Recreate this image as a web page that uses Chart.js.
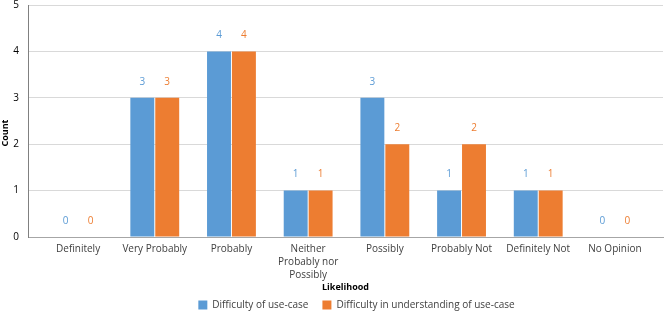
<!DOCTYPE html>
<html>
  <head>
    <meta charset="utf-8">
    <title>Likelihood chart</title>
    <style>
      html, body { margin: 0; padding: 0; background: #fff; }
      #rame { width: 664px; height: 312px; }
    </style>
  </head>
  <body>
    <div id="rame">
      <canvas id="chart"></canvas>
    </div>

    <script src="https://cdn.jsdelivr.net/npm/chart.js"></script>
    <script>
      const categories = ['Definitely', 'Very Probably', 'Probably', ['Neither', 'Probably nor', 'Possibly'],
                          'Possibly', 'Probably Not', 'Definitely Not', 'No Opinion'];
      const useCaseDifficulty = [0, 3, 4, 1, 3, 1, 1, 0];
      const understandingDifficulty = [0, 3, 4, 1, 2, 2, 1, 0];
      const countTicks = [0, 1, 2, 3, 4, 5];

      const blue = '#5b9bd5';
      const orange = '#ed7d31';
      const textColor = '#404040';
      const fontFamily = "'Open Sans', 'Liberation Sans', sans-serif";

      // value labels above each bar, in the series colour
      const valueLabels = {
        id: 'valueLabels',
        afterDatasetsDraw(chart) {
          const ctx = chart.ctx;
          ctx.save();
          ctx.font = '10px ' + fontFamily;
          ctx.textAlign = 'center';
          ctx.textBaseline = 'middle';
          chart.data.datasets.forEach(function(ds, i) {
            chart.getDatasetMeta(i).data.forEach(function(bar, j) {
              ctx.fillStyle = ds.backgroundColor;
              ctx.fillText(ds.data[j], bar.x, bar.y - 16);
            });
          });
          ctx.restore();
        }
      };

      // y axis title, sits a bit below the middle like the original
      const countTitle = {
        id: 'countTitle',
        afterDraw(chart) {
          const ctx = chart.ctx;
          const area = chart.chartArea;
          ctx.save();
          ctx.font = 'bold 9px ' + fontFamily;
          ctx.fillStyle = '#000';
          ctx.textAlign = 'center';
          ctx.textBaseline = 'middle';
          ctx.translate(5, (area.top + area.bottom) / 2 + 12);
          ctx.rotate(-Math.PI / 2);
          ctx.fillText('Count', 0, 0);
          ctx.restore();
        }
      };

      // legend in the original sits a little right of centre
      const legendShift = {
        id: 'legendShift',
        afterLayout(chart) {
          chart.legend.left += 25;
          chart.legend.right += 25;
        }
      };

      const data = {
        labels: categories,
        datasets: [{
          label: 'Difficulty of use-case',
          data: useCaseDifficulty,
          backgroundColor: blue
        }, {
          label: 'Difficulty in understanding of use-case',
          data: understandingDifficulty,
          backgroundColor: orange
        }]
      };

      const config = {
        type: 'bar',
        data: data,
        plugins: [valueLabels, countTitle, legendShift],
        options: {
          responsive: true,
          maintainAspectRatio: false,
          animation: false,
          categoryPercentage: 0.65,
          barPercentage: 0.96,
          layout: { padding: { top: 0, right: 1, left: 0, bottom: -8 } },
          plugins: {
            legend: {
              position: 'bottom',
              labels: {
                boxWidth: 9,
                boxHeight: 9,
                padding: 14,
                color: textColor,
                font: { family: fontFamily, size: 10 }
              }
            },
            tooltip: { enabled: false }
          },
          scales: {
            x: {
              offset: true,
              grid: { display: false, drawTicks: false },
              border: { color: '#a6a6a6', width: 1 },
              ticks: {
                color: textColor,
                padding: 6,
                maxRotation: 0,
                autoSkip: false,
                font: { family: fontFamily, size: 10, lineHeight: 1.3 }
              },
              title: {
                display: true,
                text: 'Likelihood',
                color: '#000',
                padding: { top: 0, bottom: -6.4 },
                font: { family: fontFamily, size: 9, weight: 'bold' }
              },
              afterBuildTicks: function(scale) {
                // stretch the category range so the bars sit like the original
                scale._startValue = -0.653;
                scale._valueRange = 8.28;
              },
              afterFit: function(scale) { scale.height = 49; }
            },
            y: {
              min: 0,
              max: 5,
              afterBuildTicks: function(scale) {
                scale.ticks = countTicks.map(v => ({ value: v }));
              },
              grid: { color: '#d9d9d9', drawTicks: true, tickLength: 9, tickColor: 'rgba(0,0,0,0)' },
              border: { color: '#808080', width: 1 },
              ticks: {
                color: '#000',
                padding: 0,
                font: { family: fontFamily, size: 10, lineHeight: 1.0 }
              },
              title: { display: false },
              afterFit: function(scale) { scale.width = 28; }
            }
          }
        }
      };

      const myChart = new Chart(document.getElementById('chart'), config);
    </script>
  </body>
</html>
